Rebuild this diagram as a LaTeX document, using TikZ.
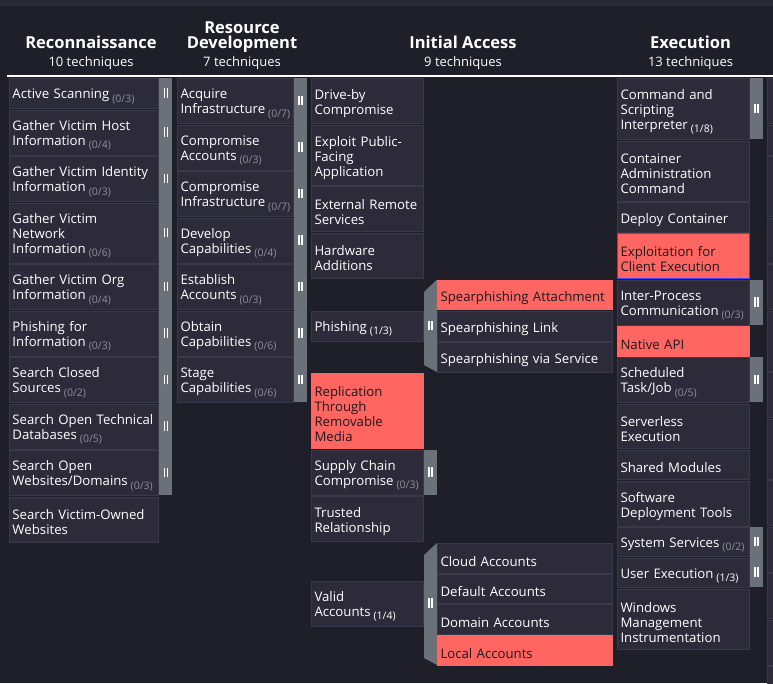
\documentclass[tikz,border=0pt]{standalone}
\usepackage{fontspec}
\setmainfont{Open Sans}
\definecolor{pagebg}{HTML}{1F1F29}
\definecolor{topband}{HTML}{2A2A35}
\definecolor{cellbg}{HTML}{2D2B3A}
\definecolor{cellline}{HTML}{3A3949}
\definecolor{barhue}{HTML}{6B7178}
\definecolor{hitred}{HTML}{FF6662}
\definecolor{hittext}{HTML}{1A1A20}
\definecolor{cntgrey}{HTML}{8E8E98}
\definecolor{pickblue}{HTML}{4646FF}
\newcommand\cellfont{\fontsize{13.2}{15}\selectfont\hyphenpenalty=10000 }
\newcommand\tallstrut{\rule{0pt}{16pt}}
\newcommand\subcnt[1]{\nobreak\hspace{3pt}\raisebox{-3.5pt}{\fontsize{10.5}{10}\selectfont\color{cntgrey}(#1)}}
\newcommand\hitcnt[1]{\nobreak\hspace{3pt}\raisebox{-3.5pt}{\fontsize{10.5}{10}\selectfont(#1)}}
\newcommand\barsicon{\rule{1.5pt}{9.5pt}\hspace{1.5pt}\rule{1.5pt}{9.5pt}}
\tikzset{cell/.style={draw=cellline, fill=cellbg, line width=1pt, text=white, anchor=north west, align=left, inner xsep=3pt, inner ysep=0pt, font=\cellfont, execute at begin node=\tallstrut},
         hit/.style={fill=hitred, draw=hitred, text=hittext},
         rec/.style={cell, text width=143pt},
         res/.style={cell, text width=110pt},
         ia/.style={cell, text width=106pt},
         sub/.style={cell, text width=169pt},
         exe/.style={cell, text width=126pt},
         subbar/.style={fill=barhue, anchor=north west, inner sep=0pt, minimum width=13pt},
         pause/.style={text=white, inner sep=0pt},
         tactic/.style={text=white, anchor=base, align=center, font=\fontsize{16.5}{15}\selectfont\bfseries},
         tcount/.style={text=white, anchor=base, font=\fontsize{13}{15}\selectfont},
        }

\begin{document}
\begin{tikzpicture}[x=1pt, y=-1pt]
        \useasboundingbox (0,0) rectangle (773,683);
        \fill[pagebg] (0,0) rectangle (773,683);
        \fill[topband] (0,0) rectangle (773,5.5);

        \node[tactic](rectac)at(91,48.5){Reconnaissance};
        \node[tcount](recnum)at(91,66){10 techniques};
        \node[tactic](restac)at(242,48.5){Resource\\Development};
        \node[tcount](resnum)at(242,66){7 techniques};
        \node[tactic](iatac)at(463,48.5){Initial Access};
        \node[tcount](ianum)at(463,66){9 techniques};
        \node[tactic](exetac)at(690.5,48.5){Execution};
        \node[tcount](exenum)at(690.5,66){13 techniques};
        \draw[white, line width=1.6pt](7,76)--(773,76);

        \node[subbar, minimum height=417pt](recbar)at(159,78){};
        \node[rec, minimum height=30pt](recas)at(9,78){Active Scanning\subcnt{0/3}};
        \node[rec, minimum height=45pt](recvh)at(9,109.5){Gather Victim Host\\Information\subcnt{0/4}};
        \node[rec, minimum height=45pt](recvi)at(9,156){Gather Victim Identity\\Information\subcnt{0/3}};
        \node[rec, minimum height=60pt](recvn)at(9,202.5){Gather Victim\\Network\\Information\subcnt{0/6}};
        \node[rec, minimum height=45pt](recvo)at(9,264){Gather Victim Org\\Information\subcnt{0/4}};
        \node[rec, minimum height=45pt](recpi)at(9,310.5){Phishing for\\Information\subcnt{0/3}};
        \node[rec, minimum height=45pt](recsc)at(9,357){Search Closed\\Sources\subcnt{0/2}};
        \node[rec, minimum height=45pt](recst)at(9,403.5){Search Open Technical\\Databases\subcnt{0/5}};
        \node[rec, minimum height=45pt](recsw)at(9,450){Search Open\\Websites/Domains\subcnt{0/3}};
        \node[rec, minimum height=45pt](recvw)at(9,496.5){Search Victim-Owned\\Websites};
        \node[pause](recp1)at(166,93){\barsicon};
        \node[pause](recp2)at(166,132){\barsicon};
        \node[pause](recp3)at(166,178.5){\barsicon};
        \node[pause](recp4)at(166,232.5){\barsicon};
        \node[pause](recp5)at(166,286.5){\barsicon};
        \node[pause](recp6)at(166,333){\barsicon};
        \node[pause](recp7)at(166,379.5){\barsicon};
        \node[pause](recp8)at(166,426){\barsicon};
        \node[pause](recp9)at(166,472.5){\barsicon};

        \node[subbar, minimum height=324pt](resbar)at(294,78){};
        \node[res, minimum height=45pt](resai)at(177,78){Acquire\\Infrastructure\subcnt{0/7}};
        \node[res, minimum height=45pt](resca)at(177,124.5){Compromise\\Accounts\subcnt{0/3}};
        \node[res, minimum height=45pt](resci)at(177,171){Compromise\\Infrastructure\subcnt{0/7}};
        \node[res, minimum height=45pt](resdc)at(177,217.5){Develop\\Capabilities\subcnt{0/4}};
        \node[res, minimum height=45pt](resea)at(177,264){Establish\\Accounts\subcnt{0/3}};
        \node[res, minimum height=45pt](resoc)at(177,310.5){Obtain\\Capabilities\subcnt{0/6}};
        \node[res, minimum height=45pt](ressc)at(177,357){Stage\\Capabilities\subcnt{0/6}};
        \node[pause](resp1)at(300.5,100.5){\barsicon};
        \node[pause](resp2)at(300.5,147){\barsicon};
        \node[pause](resp3)at(300.5,193.5){\barsicon};
        \node[pause](resp4)at(300.5,240){\barsicon};
        \node[pause](resp5)at(300.5,286.5){\barsicon};
        \node[pause](resp6)at(300.5,333){\barsicon};
        \node[pause](resp7)at(300.5,379.5){\barsicon};

        \node[ia, minimum height=45pt](iadc)at(311,78){Drive-by\\Compromise};
        \node[ia, minimum height=60pt](iaep)at(311,124.5){Exploit Public-\\Facing\\Application};
        \node[ia, minimum height=45pt](iaer)at(311,186){External Remote\\Services};
        \node[ia, minimum height=45pt](iaha)at(311,232.5){Hardware\\Additions};
        \node[ia, minimum height=30pt](iaph)at(311,310.5){Phishing\hitcnt{1/3}};
        \node[ia, hit, minimum height=75.5pt](iarr)at(311,372.5){Replication\\Through\\Removable\\Media};
        \node[ia, minimum height=45pt](iasc)at(311,449.5){Supply Chain\\Compromise\subcnt{0/3}};
        \node[ia, minimum height=45pt](iatr)at(311,496){Trusted\\Relationship};
        \node[ia, minimum height=45pt](iava)at(311,580.5){Valid\\Accounts\hitcnt{1/4}};

        \fill[barhue](424,292)--(437,279.5)--(437,372)--(424,365)--cycle;
        \node[pause](iap1)at(430.5,325.5){\barsicon};
        \node[sub, hit, minimum height=29.8pt](iaspa)at(437,279.5){Spearphishing Attachment};
        \node[sub, minimum height=29.8pt](iaspl)at(437,310.8){Spearphishing Link};
        \node[sub, minimum height=29.8pt](iasps)at(437,342){Spearphishing via Service};

        \node[subbar, minimum height=45pt](iascbar)at(424,449.5){};
        \node[pause](iap2)at(430.5,472){\barsicon};

        \fill[barhue](424,555)--(437,543)--(437,665)--(424,658)--cycle;
        \node[pause](iap3)at(430.5,603){\barsicon};
        \node[sub, minimum height=29.5pt](iaclo)at(437,543){Cloud Accounts};
        \node[sub, minimum height=29.5pt](iadef)at(437,573.5){Default Accounts};
        \node[sub, minimum height=29.5pt](iadom)at(437,604){Domain Accounts};
        \node[sub, hit, minimum height=30.5pt](ialoc)at(437,634.5){Local Accounts};

        \node[subbar, minimum height=61pt](exebar1)at(750,78){};
        \node[subbar, minimum height=45pt](exebar2)at(750,279.5){};
        \node[subbar, minimum height=45pt](exebar3)at(750,357){};
        \node[subbar, minimum height=60pt](exebar4)at(750,527){};
        \node[exe, minimum height=61pt](execs)at(617,78){Command and\\Scripting\\Interpreter\hitcnt{1/8}};
        \node[exe, minimum height=60pt](execa)at(617,140.5){Container\\Administration\\Command};
        \node[exe, minimum height=29.5pt](exedc)at(617,202){Deploy Container};
        \node[exe, hit, draw=pickblue, minimum height=45pt](exece)at(617,233){Exploitation for\\Client Execution};
        \node[exe, minimum height=45pt](exeip)at(617,279.5){Inter-Process\\Communication\subcnt{0/3}};
        \node[exe, hit, minimum height=29.5pt](exena)at(617,326){Native API};
        \node[exe, minimum height=45pt](exest)at(617,357){Scheduled\\Task/Job\subcnt{0/5}};
        \node[exe, minimum height=44.5pt](exese)at(617,403.5){Serverless\\Execution};
        \node[exe, minimum height=29.5pt](exesm)at(617,449.5){Shared Modules};
        \node[exe, minimum height=45pt](exesd)at(617,480.5){Software\\Deployment Tools};
        \node[exe, minimum height=29pt](exess)at(617,527){System Services\subcnt{0/2}};
        \node[exe, minimum height=29.5pt](exeue)at(617,557.5){User Execution\hitcnt{1/3}};
        \node[exe, minimum height=60.5pt](exewm)at(617,588.5){Windows\\Management\\Instrumentation};
        \node[pause](exep1)at(756.5,108.5){\barsicon};
        \node[pause](exep2)at(756.5,302){\barsicon};
        \node[pause](exep3)at(756.5,379.5){\barsicon};
        \node[pause](exep4)at(756.5,541.5){\barsicon};
        \node[pause](exep5)at(756.5,572){\barsicon};

        \node[cell, minimum width=14pt, minimum height=45pt](nxt1)at(767,78){};
        \node[cell, minimum width=14pt, minimum height=30pt](nxt2)at(767,124.5){};
        \node[cell, minimum width=14pt, minimum height=60pt](nxt3)at(767,156){};
        \node[cell, minimum width=14pt, minimum height=45pt](nxt4)at(767,217.5){};
        \node[cell, minimum width=14pt, minimum height=45pt](nxt5)at(767,264){};
        \node[cell, minimum width=14pt, minimum height=60pt](nxt6)at(767,310.5){};
        \node[cell, minimum width=14pt, minimum height=45pt](nxt7)at(767,372){};
        \node[cell, minimum width=14pt, minimum height=60pt](nxt8)at(767,418.5){};
        \node[cell, minimum width=14pt, minimum height=45pt](nxt9)at(767,480){};
        \node[cell, minimum width=14pt, minimum height=45pt](nxt10)at(767,526.5){};
        \node[cell, minimum width=14pt, minimum height=45pt](nxt11)at(767,573){};
        \node[cell, minimum width=14pt, minimum height=45pt](nxt12)at(767,619.5){};
        \node[cell, minimum width=14pt, minimum height=30pt](nxt13)at(767,666){};
    \end{tikzpicture}
\end{document}
